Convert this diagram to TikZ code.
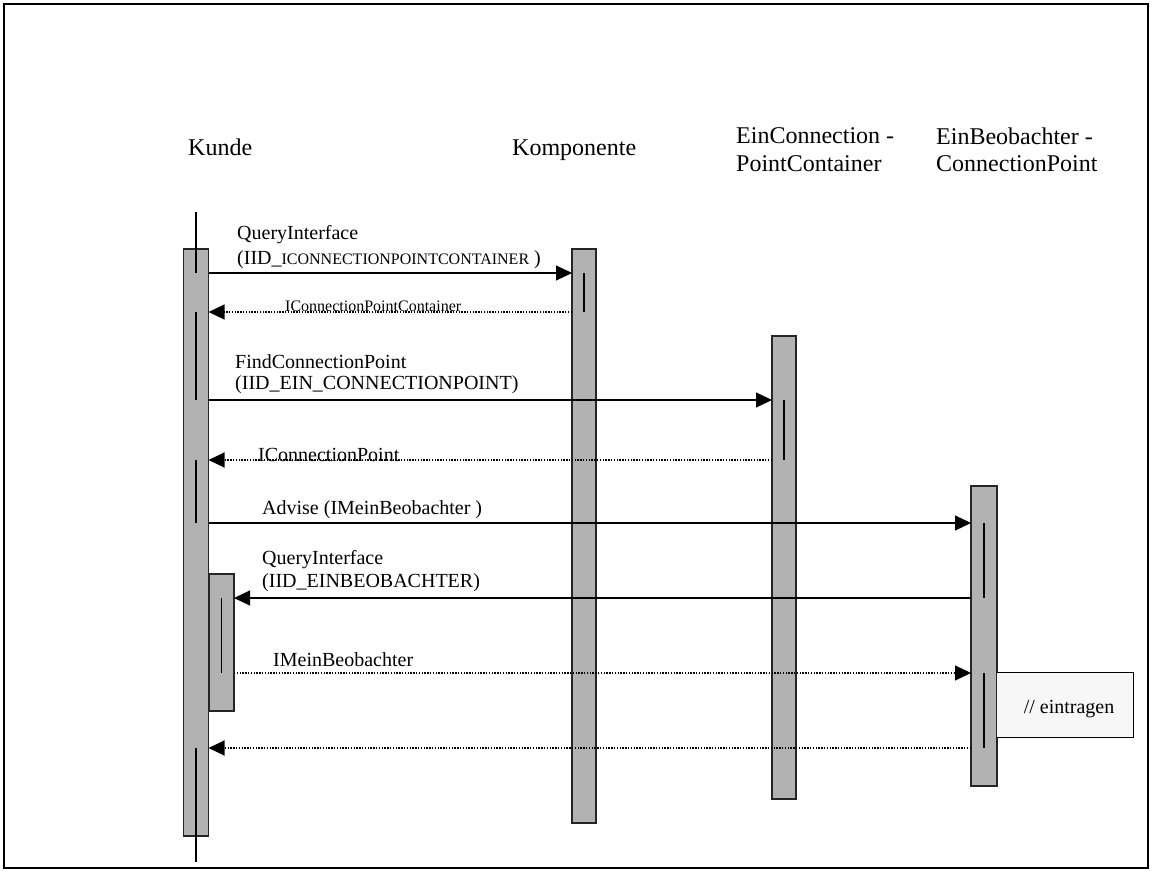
\documentclass[tikz,border=0pt]{standalone}
\usepackage{fontspec}
\setmainfont{Liberation Serif}
\usetikzlibrary{arrows.meta}
\begin{document}
\begin{tikzpicture}[x=1pt,y=-1pt,
 bar/.style={draw=black!85, line width=1.1pt, fill=black!30, minimum width=25pt, inner sep=0pt, outer sep=0pt},
 focus/.style={line width=1.2pt},
 call/.style={line width=1.1pt, -{Triangle[length=16pt,width=15pt]}},
 ret/.style={line width=1.1pt, dash pattern=on 1.4pt off 1.4pt, -{Triangle[length=16pt,width=15pt]}},
 head/.style={font=\fontsize{24}{28}\selectfont, anchor=west, inner sep=0pt},
 lbl/.style={font=\fontsize{20}{23}\selectfont, anchor=west, inner sep=0pt},
 small/.style={font=\fontsize{16}{18}\selectfont, inner sep=0pt},
]
\useasboundingbox (0,0) rectangle (1152,872);
\draw[line width=1.3pt] (4,4) rectangle (1148,868);

% headers
\node[head] (hk) at (188,147) {Kunde};
\node[head] (hc) at (512,150) {Komponente};
\node[head] (he1) at (736,136) {EinConnection -};
\node[head] (he2) at (736,164) {PointContainer};
\node[head] (hb1) at (936,136) {EinBeobachter -};
\node[head] (hb2) at (936,164) {ConnectionPoint};

% activation bars
\node[bar, minimum height=587pt] (kunde) at (196,542.5) {};
\node[bar, minimum width=24pt, minimum height=574pt] (komp) at (584,536) {};
\node[bar, minimum width=24pt, minimum height=463pt] (econ) at (784,567.5) {};
\node[bar, minimum width=26pt, minimum height=300pt] (beob) at (984,636) {};
\node[bar, minimum height=137pt] (sub) at (221.5,642.5) {};

% note
\node[inner sep=0pt, minimum width=136pt, minimum height=64pt] (note) at (1065,705) {};
\fill[black!3] (note.north west) rectangle (note.south east);
\draw[line width=1pt] (note.north west) -- (note.north east) -- (note.south east) -- (note.south west);
\node[lbl, anchor=center] (notetxt) at (1069,709) {// eintragen};

% message levels
\coordinate (y1) at (0,273);
\coordinate (y2) at (0,312);
\coordinate (y3) at (0,400);
\coordinate (y4) at (0,460);
\coordinate (y5) at (0,523);
\coordinate (y6) at (0,598);
\coordinate (y7) at (0,673);
\coordinate (y8) at (0,748);
\coordinate (ltop) at (196,212);
\coordinate (lbot) at (196,862);

% focus lines
\draw[focus] (ltop) -- (kunde.center |- y1);
\draw[focus] (kunde.center |- y2) -- (kunde.center |- y3);
\draw[focus] (kunde.center |- y4) -- (kunde.center |- y5);
\draw[focus] (kunde.center |- y8) -- (lbot);
\draw[focus] (komp.center |- y1) -- (komp.center |- y2);
\draw[focus] (econ.center |- y3) -- (econ.center |- y4);
\draw[focus] (beob.center |- y5) -- (beob.center |- y6);
\draw[focus] (beob.center |- y7) -- (beob.center |- y8);
\draw[focus] (sub.center |- y6) -- (sub.center |- y7);

% messages
\draw[call] (kunde.east |- y1) -- (komp.west |- y1);
\draw[ret] (komp.west |- y2) -- (kunde.east |- y2);
\draw[call] (kunde.east |- y3) -- (econ.west |- y3);
\draw[ret] (econ.west |- y4) -- (kunde.east |- y4);
\draw[call] (kunde.east |- y5) -- (beob.west |- y5);
\draw[call] (beob.west |- y6) -- (sub.east |- y6);
\draw[ret] (sub.east |- y7) -- (beob.west |- y7);
\draw[ret] (beob.west |- y8) -- (kunde.east |- y8);

% labels
\node[lbl] (m1a) at (237,235) {QueryInterface};
\node[lbl] (m1b) at (237,260) {(IID\_{\fontsize{16}{18}\selectfont ICONNECTIONPOINTCONTAINER} )};
\node[small, anchor=base west] (m2) at (285,311) {IConnectionPointContainer};
\node[lbl] (m3a) at (235,362) {FindConnectionPoint};
\node[lbl] (m3b) at (235,385) {(IID\_EIN\_CONNECTIONPOINT)};
\node[lbl, anchor=base west] (m4) at (258,461) {IConnectionPoint};
\node[lbl] (m5) at (262,510) {Advise (IMeinBeobachter )};
\node[lbl] (m6a) at (262,560) {QueryInterface};
\node[lbl] (m6b) at (262,583) {(IID\_EINBEOBACHTER)};
\node[lbl] (m7) at (273,660) {IMeinBeobachter};
\end{tikzpicture}
\end{document}
